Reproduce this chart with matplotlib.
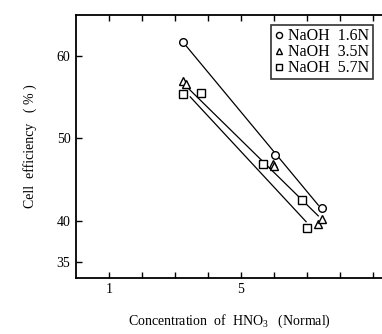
import numpy as np
import matplotlib
matplotlib.use("Agg")
import matplotlib.pyplot as plt

plt.rcParams['font.family'] = ['Liberation Serif', 'DejaVu Serif']
plt.rcParams['mathtext.fontset'] = 'custom'
plt.rcParams['mathtext.rm'] = 'Liberation Serif'

# NaOH 1.6N
x_c = [3.24, 6.04, 7.46]
y_c = [61.6, 48.0, 41.6]
# NaOH 3.5N
x_t = [3.23, 3.32, 5.96, 6.00, 7.34, 7.46]
y_t = [56.9, 56.6, 46.9, 46.6, 39.6, 40.2]
# NaOH 5.7N
x_s = [3.24, 3.79, 5.67, 6.85, 7.00]
y_s = [55.4, 55.5, 46.9, 42.5, 39.1]

# hand-drawn fit lines (start, end)
fit_c = ([3.35, 7.34], [61.1, 41.9])
fit_t = ([3.32, 7.34], [56.35, 40.6])
fit_s = ([3.46, 6.97], [55.0, 39.9])

labels = ['NaOH  1.6N', 'NaOH  3.5N', 'NaOH  5.7N']

fig = plt.figure(figsize=(3.82, 3.34), dpi=100)
ax = fig.add_axes([0.199, 0.168, 0.801, 0.787])

for fx, fy in (fit_c, fit_t, fit_s):
    ax.plot(fx, fy, color='black', lw=0.9, zorder=1)

mk = dict(ls='none', mfc='white', mec='black', mew=1.0, ms=5.5, zorder=3)
h1, = ax.plot(x_c, y_c, marker='o', **mk)
h2, = ax.plot(x_t, y_t, marker='^', **mk)
h3, = ax.plot(x_s, y_s, marker='s', **mk)

ax.set_xlim(0, 9.27)
ax.set_ylim(33.1, 64.9)
ax.set_xticks(range(1, 10))
ax.set_xticklabels(['1', '', '', '', '5', '', '', '', ''])
ax.set_yticks([35, 40, 50, 60])
ax.tick_params(direction='in', length=4, width=1, labelsize=10, top=True, pad=4)
ax.spines['right'].set_visible(False)
for s in ('left', 'bottom', 'top'):
    ax.spines[s].set_linewidth(1.3)

ax.set_ylabel('Cell  efficiency   ( % )', fontsize=10, labelpad=14)
ax.set_xlabel('Concentration  of  HNO$_3$   (Normal)', fontsize=10, labelpad=12)

leg = ax.legend([h1, h2, h3], labels, loc='upper right', bbox_to_anchor=(0.97, 0.962),
                fontsize=11.5, handlelength=0.6, handletextpad=0.3, borderpad=0.2,
                labelspacing=0.0, frameon=True, fancybox=False, borderaxespad=0,
                markerscale=0.8)
leg.get_frame().set_edgecolor('black')
leg.get_frame().set_linewidth(1.2)

fig.savefig('out.png', dpi=100)
